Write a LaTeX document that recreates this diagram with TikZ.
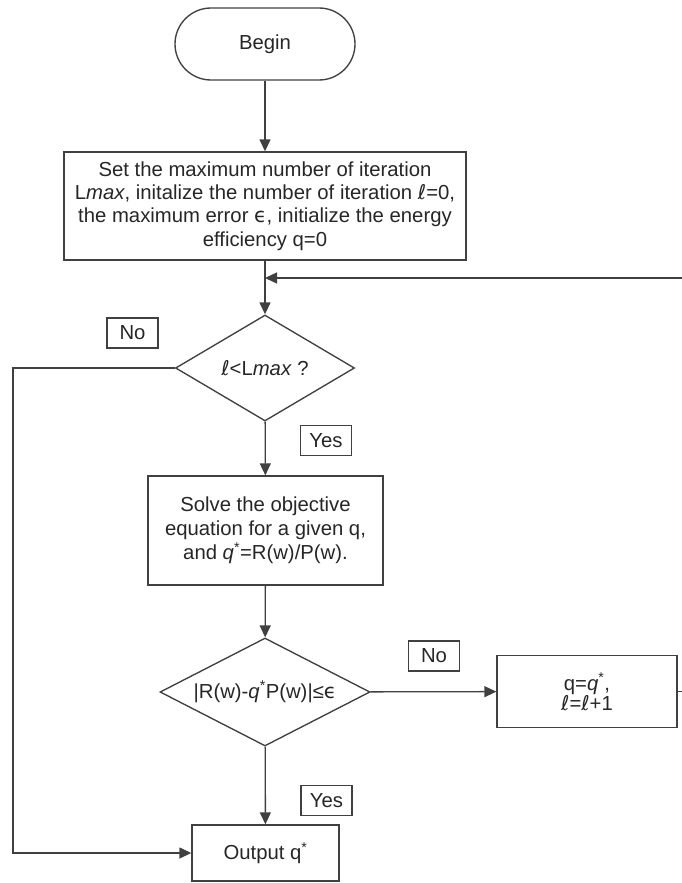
\documentclass[tikz,border=0pt]{standalone}
\usepackage{fontspec}
\setmainfont{Liberation Sans}
\newfontfamily\dvfont{DejaVu Sans}
\usetikzlibrary{shapes.geometric,arrows.meta}
\definecolor{linec}{HTML}{404040}
\definecolor{txtc}{HTML}{262626}
\newcommand{\ellc}{{\dvfont\itshape ℓ}}
\newcommand{\epsc}{{\dvfont ϵ}}
\newcommand{\qs}{\textit{q}\textsuperscript{*}}
\begin{document}
\begin{tikzpicture}[x=1pt,y=-1pt,
  font=\fontsize{20.3}{23.3}\selectfont, text=txtc,
  procbox/.style={draw=linec, line width=1.35pt, align=center, inner sep=0pt},
  termbox/.style={draw=linec, line width=1.35pt, rounded corners=36pt, inner sep=0pt},
  lbl/.style={draw=linec, line width=1.2pt, inner sep=0pt, minimum width=51pt, minimum height=30pt},
  dia/.style={diamond, aspect=2, draw=linec, line width=1.35pt, inner sep=0pt},
  arr/.style={draw=linec, line width=1.35pt, -{Triangle[length=12pt,width=11pt]}},
  ln/.style={draw=linec, line width=1.35pt}]
\useasboundingbox (0,0) rectangle (681,883);

\node[termbox, minimum width=180pt, minimum height=72pt] (begin) at (265,44) {Begin};

\node[procbox, minimum width=402pt, minimum height=108pt] (init) at (265,206)
  {Set the maximum number of iteration\\
   L\textit{max}, initalize the number of iteration \ellc=0,\\
   the maximum error \epsc, initialize the energy\\
   efficiency q=0};

\coordinate (join) at (265,278);

\node[dia, minimum width=179pt, minimum height=106pt] (d1) at (265,368) {\ellc<L\textit{max} ?};

\node[lbl] (no1) at (132.5,333) {No};
\node[lbl] (yes1) at (326,440.5) {Yes};

\node[procbox, minimum width=235pt, minimum height=109pt, font=\fontsize{20.3}{24}\selectfont] (solve) at (265.5,530.5)
  {Solve the objective\\ equation for a given q,\\ and \qs=R(w)/P(w).};

\node[dia, minimum width=210pt, minimum height=108pt] (d2) at (265,692)
  {|R(w)-\qs P(w)|≤\epsc};

\node[lbl] (no2) at (434,656) {No};

\node[procbox, minimum width=180pt, minimum height=72pt, font=\fontsize{20.3}{20}\selectfont] (upd) at (587,691.5)
  {q=\qs,\\ \ellc=\ellc+1};

\node[lbl] (yes2) at (326.5,800.5) {Yes};

\node[procbox, minimum width=147pt, minimum height=56pt] (out) at (265.5,853) {Output q\textsuperscript{*}};

\draw[arr] (begin) -- (init);
\draw[arr] (init.south) -- (d1.north);
\draw[arr] (upd.east) -- ++(30,0) |- (join);
\draw[arr] (d1) -- (solve);
\draw[arr] (solve) -- (d2);
\draw[arr] (d2) -- (upd);
\draw[arr] (d2) -- (out);
\draw[arr] (d1.west) -- ++(-162,0) |- (out.west);
\end{tikzpicture}
\end{document}
